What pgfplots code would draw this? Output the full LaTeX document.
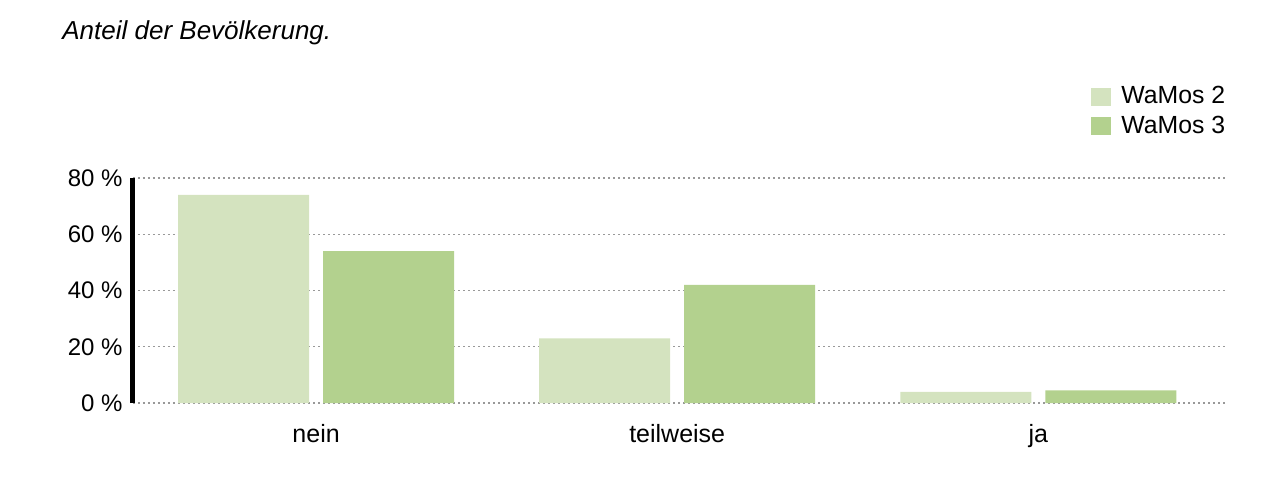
\documentclass[border=0pt]{standalone}
\usepackage{fontspec}
\setmainfont{Liberation Sans}
\usepackage{pgfplots}
\pgfplotsset{compat=1.18}
\definecolor{wamosA}{HTML}{D4E3BF}
\definecolor{wamosB}{HTML}{B3D18E}
\definecolor{gridgray}{HTML}{999999}

\begin{document}
\begin{tikzpicture}
\path[use as bounding box] (-66.5pt,-46pt) rectangle (567.5pt,201.5pt);
\begin{axis}[
    scale only axis,
    width=546pt,
    height=112.5pt,
    ybar=7pt,
    bar width=65.5pt,
    xmin=-0.507, xmax=2.517,
    ymin=0, ymax=80,
    xtick={0,1,2},
    xticklabels={nein,teilweise,ja},
    ytick={0,20,40,60,80},
    yticklabels={0 \%,20 \%,40 \%,60 \%,80 \%},
    axis x line=bottom,
    axis y line=left,
    x axis line style={draw=none},
    y axis line style={line width=2.5pt,-},
    major tick length=0pt,
    tick style={draw=none},
    ymajorgrids,
    grid style={gridgray, line width=0.7pt, dash pattern=on 1pt off 1.5pt},
    xticklabel style={font=\fontsize{12.5}{14}\selectfont, anchor=base, yshift=-19.5pt},
    yticklabel style={font=\fontsize{12}{14}\selectfont, anchor=east, inner sep=0pt, xshift=-5pt},
    legend image code/.code={\fill[#1] (0pt,-4.5pt) rectangle (10pt,4.5pt);},
    legend style={at={(0.8773,1.409)}, anchor=north west, draw=none, fill=none,
        inner sep=0pt, font=\fontsize{12.4}{14}\selectfont,
        nodes={inner sep=0pt}, row sep=4.5pt, column sep=5pt,
        cells={anchor=west}},
]
\addplot[fill=wamosA, draw=none] coordinates {(0,74) (1,23) (2,4)};
\addplot[fill=wamosB, draw=none] coordinates {(0,54) (1,42) (2,4.5)};
\legend{WaMos 2,WaMos 3}
\end{axis}
\node[anchor=base west, font=\fontsize{13}{15}\selectfont\itshape, inner sep=0pt] at (-35.5pt,182pt) {Anteil der Bevölkerung.};
\end{tikzpicture}
\end{document}
